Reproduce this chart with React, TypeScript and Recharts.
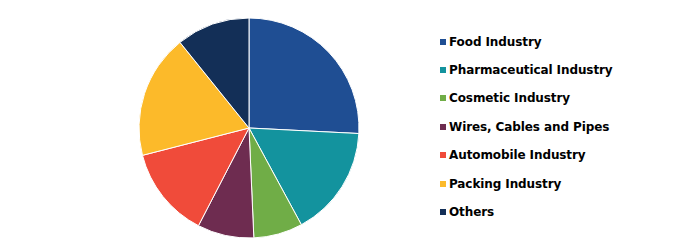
import { PieChart, Pie, Cell, Legend } from "recharts";

const industries = [
  "Food Industry",
  "Pharmaceutical Industry",
  "Cosmetic Industry",
  "Wires, Cables and Pipes",
  "Automobile Industry",
  "Packing Industry",
  "Others",
];

const shares = [25.8, 16.3, 7.2, 8.3, 13.4, 18.2, 10.8];

const colors = [
  "#1F4E93",
  "#13939E",
  "#70AD47",
  "#6E2C50",
  "#F04B3A",
  "#FCBA2A",
  "#132F57",
];

const pieData = industries.map((name, i) => ({ name, value: shares[i] }));

const LegendList = () => (
  <div style={{ fontFamily: "'DejaVu Sans', Verdana, sans-serif", fontWeight: "bold", fontSize: 12, letterSpacing: -0.1, color: "#000" }}>
    {industries.map((name, i) => (
      <div key={name} style={{ display: "flex", alignItems: "center", height: 28.4 }}>
        <span style={{ width: 6, height: 6, background: colors[i], marginRight: 3, display: "inline-block" }} />
        <span>{name}</span>
      </div>
    ))}
  </div>
);

export default function App() {
  return (
    <div style={{ width: 675, height: 248, background: "#fff" }}>
      <style>{`body{margin:0}`}</style>
      <PieChart width={675} height={248} margin={{ top: 0, right: 0, bottom: 0, left: 0 }}>
        <Pie
          data={pieData}
          dataKey="value"
          nameKey="name"
          cx={249}
          cy={128}
          outerRadius={110}
          startAngle={90}
          endAngle={-270}
          stroke="#fff"
          strokeWidth={1}
          isAnimationActive={false}
        >
          {pieData.map((d, i) => (
            <Cell key={d.name} fill={colors[i]} />
          ))}
        </Pie>
        <Legend
          content={<LegendList />}
          wrapperStyle={{ left: 440, top: 27.5, width: 220 }}
        />
      </PieChart>
    </div>
  );
}
